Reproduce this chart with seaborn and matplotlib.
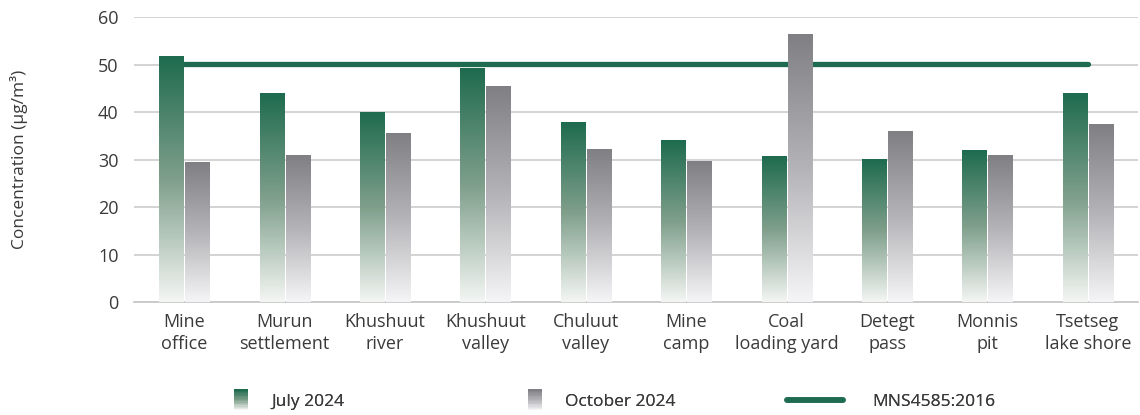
import numpy as np
import pandas as pd
import matplotlib
matplotlib.use("Agg")
import matplotlib.pyplot as plt
import seaborn as sns
from matplotlib.colors import LinearSegmentedColormap
from matplotlib.legend_handler import HandlerBase
from matplotlib.patches import Rectangle
from matplotlib.lines import Line2D

# data
sites = ["Mine\noffice", "Murun\nsettlement", "Khushuut\nriver", "Khushuut\nvalley",
         "Chuluut\nvalley", "Mine\ncamp", "Coal\nloading yard", "Detegt\npass",
         "Monnis\npit", "Tsetseg\nlake shore"]
july_2024 = [51.6, 43.8, 40.0, 49.1, 37.7, 33.9, 30.7, 29.9, 32.0, 43.8]
october_2024 = [29.3, 30.9, 35.4, 45.3, 32.2, 29.5, 56.4, 35.8, 30.9, 37.3]
standard = [50.2] * len(sites)

GREEN = "#1e6b4f"
GREY = "#808084"
green_cmap = LinearSegmentedColormap.from_list("g", ["#f4f6f4", "#7f9f8b", GREEN])
grey_cmap = LinearSegmentedColormap.from_list("k", ["#f5f5f7", "#b4b4b8", GREY])

df = pd.DataFrame({
    "site": sites * 2,
    "value": july_2024 + october_2024,
    "period": ["July 2024"] * len(sites) + ["October 2024"] * len(sites),
})

sns.set_style("white")
plt.rcParams["font.family"] = ["Open Sans", "DejaVu Sans"]
text_col = "#3a3a3a"

fig = plt.figure(figsize=(11.4, 4.15), dpi=100)
ax = fig.add_axes([134 / 1140, 113 / 415, 1004 / 1140, 285 / 415])

ax.yaxis.grid(True, color="#d0d0d0", linewidth=1.3)
ax.set_axisbelow(True)

# standard line (behind bars)
sns.lineplot(x=np.arange(len(sites)), y=standard, ax=ax, color=GREEN,
             linewidth=3.8, zorder=2, legend=False)

sns.barplot(data=df, x="site", y="value", hue="period", order=sites,
            palette={"July 2024": GREEN, "October 2024": GREY},
            width=0.52, gap=0.08, ax=ax, legend=False, zorder=3)

# gradient fill on each bar
grad = np.linspace(0, 1, 256).reshape(-1, 1)
n = len(sites)
for i, bar in enumerate(ax.patches[:2 * n]):
    cmap = green_cmap if i < n else grey_cmap
    x0, w, h = bar.get_x(), bar.get_width(), bar.get_height()
    ax.imshow(grad, cmap=cmap, origin="lower", aspect="auto",
              extent=[x0, x0 + w, 0, h], zorder=3)
    bar.set_visible(False)

ax.set_xlim(-0.5, 9.5)
ax.set_ylim(0, 60)
ax.set_yticks(range(0, 61, 10))
ax.set_xlabel("")
ax.set_ylabel("Concentration (µg/m³)", fontsize=12.5, color=text_col)
ax.yaxis.set_label_coords(-106 / 1004, 0.5)
ax.tick_params(axis="both", length=0, labelsize=13, colors=text_col)
ax.tick_params(axis="x", pad=8)
ax.tick_params(axis="y", pad=11)
for lbl in ax.get_xticklabels():
    lbl.set_linespacing(1.3)
for s in ["top", "right", "left"]:
    ax.spines[s].set_visible(False)
ax.spines["bottom"].set_color("#c8c8c8")
ax.spines["bottom"].set_linewidth(1.3)


class GradientHandler(HandlerBase):
    def __init__(self, cmap):
        super().__init__()
        self.cmap = cmap

    def create_artists(self, legend, orig_handle, xdescent, ydescent,
                       width, height, fontsize, trans):
        steps = 16
        arts = []
        full = 15
        y0 = -ydescent + height / 2 - full / 2
        for k in range(steps):
            r = Rectangle((xdescent + width - 10, y0 + k * full / steps),
                          10, full / steps + 0.3,
                          facecolor=self.cmap(k / (steps - 1)), edgecolor="none",
                          transform=trans)
            arts.append(r)
        return arts


h_july = Rectangle((0, 0), 1, 1)
h_oct = Rectangle((0, 1), 1, 1)
h_line = Line2D([0], [0], color=GREEN, linewidth=4)

# (handle, label, handler, handle left x in px)
legend_items = [
    (h_july, "July 2024", GradientHandler(green_cmap), 237),
    (h_oct, "October 2024", GradientHandler(grey_cmap), 531),
    (h_line, "MNS4585:2016", None, 787),
]
for handle, label, handler, xh in legend_items:
    if handler is not None:
        hm = {handle: handler}
        hl, pad, left = 0.8, 1.35, xh - 3
    else:
        hm = {}
        hl, pad, left = 3.2, 1.7, xh
    leg = fig.legend([handle], [label], loc="center left",
                     bbox_to_anchor=(left / 1140, 1 - 402 / 415),
                     frameon=False, fontsize=12.5, handler_map=hm,
                     handlelength=hl, handletextpad=pad,
                     borderaxespad=0, borderpad=0)
    for t in leg.get_texts():
        t.set_color(text_col)
    fig.add_artist(leg)

fig.savefig("out.png", dpi=100)
